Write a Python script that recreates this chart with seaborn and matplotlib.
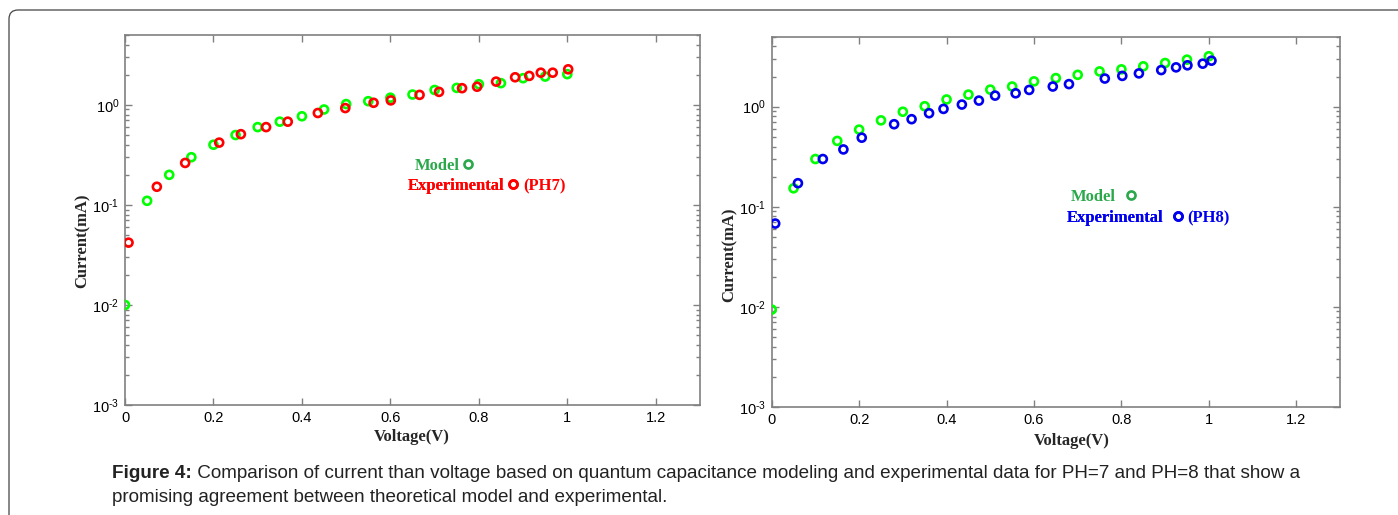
import matplotlib
matplotlib.use("Agg")
import matplotlib.pyplot as plt
import matplotlib.lines as mlines
from matplotlib.patches import FancyBboxPatch
from matplotlib.ticker import LogLocator, FixedLocator, NullFormatter
import seaborn as sns

# ---- data ----
model7_v = [0.0, 0.05, 0.10, 0.15, 0.20, 0.25, 0.30, 0.35, 0.40, 0.45, 0.50,
            0.55, 0.60, 0.65, 0.70, 0.75, 0.80, 0.85, 0.90, 0.95, 1.00]
model7_i = [0.010, 0.11, 0.20, 0.30, 0.40, 0.50, 0.60, 0.68, 0.77, 0.90, 1.02,
            1.09, 1.18, 1.27, 1.41, 1.48, 1.61, 1.65, 1.85, 1.92, 2.03]
exp7_v = [0.008, 0.072, 0.136, 0.213, 0.262, 0.319, 0.368, 0.436, 0.498, 0.562, 0.601,
          0.666, 0.710, 0.762, 0.796, 0.839, 0.882, 0.914, 0.940, 0.967, 1.002]
exp7_i = [0.042, 0.152, 0.263, 0.42, 0.51, 0.60, 0.68, 0.83, 0.93, 1.05, 1.11,
          1.26, 1.35, 1.47, 1.52, 1.71, 1.89, 1.95, 2.10, 2.10, 2.27]

model8_v = [0.0, 0.05, 0.10, 0.15, 0.20, 0.25, 0.30, 0.35, 0.40, 0.45, 0.50,
            0.55, 0.60, 0.65, 0.70, 0.75, 0.80, 0.85, 0.90, 0.95, 1.00]
model8_i = [0.0094, 0.153, 0.30, 0.455, 0.59, 0.73, 0.89, 1.01, 1.18, 1.32, 1.48,
            1.59, 1.79, 1.93, 2.08, 2.25, 2.36, 2.53, 2.73, 2.95, 3.19]
exp8_v = [0.008, 0.060, 0.117, 0.164, 0.206, 0.280, 0.320, 0.360, 0.393, 0.435, 0.474,
          0.511, 0.558, 0.589, 0.643, 0.680, 0.762, 0.802, 0.840, 0.891, 0.925,
          0.951, 0.986, 1.006]
exp8_i = [0.068, 0.172, 0.30, 0.374, 0.49, 0.668, 0.75, 0.86, 0.95, 1.05, 1.15,
          1.29, 1.36, 1.47, 1.59, 1.68, 1.91, 2.03, 2.15, 2.32, 2.47,
          2.59, 2.69, 2.88]

x_ticks = [0, 0.2, 0.4, 0.6, 0.8, 1.0, 1.2]
x_labels = ["0", "0.2", "0.4", "0.6", "0.8", "1", "1.2"]
y_ticks = [1e-3, 1e-2, 1e-1, 1e0]
y_labels = [r"$\mathregular{10^{\text{-}3}}$", r"$\mathregular{10^{\text{-}2}}$",
            r"$\mathregular{10^{\text{-}1}}$", r"$\mathregular{10^{0}}$"]

caption_bold = "Figure 4:"
caption_1 = " Comparison of current than voltage based on quantum capacitance modeling and experimental data for PH=7 and PH=8 that show a"
caption_2 = "promising agreement between theoretical model and experimental."

sns.set_theme(style="ticks")
plt.rcParams["font.family"] = ["Liberation Sans", "DejaVu Sans"]
plt.rcParams["mathtext.fontset"] = "custom"
plt.rcParams["mathtext.rm"] = "Liberation Sans"

LIME = "#00ff00"
LEG_GREEN = "#2aa84a"
RED = "#ff0000"
BLUE = "#0000ee"
SPINE = "#808080"
serif_bold = {"family": "Liberation Serif", "weight": "bold", "size": 12}

W, H = 1398, 515
fig = plt.figure(figsize=(W / 100, H / 100), dpi=100)

# rounded border around the figure
fig.patches.append(FancyBboxPatch((9, -60), 1460, H - 10 + 60,
                                  boxstyle="round,pad=0,rounding_size=9",
                                  transform=None, fill=False, ec="#444444", lw=0.9))

ax1 = fig.add_axes([125 / W, 1 - 405 / H, 575 / W, 370 / H])
ax2 = fig.add_axes([771.7 / W, 1 - 407 / H, 568.3 / W, 370.3 / H])


def draw_panel(ax, mv, mi, ev, ei, ecol):
    sns.scatterplot(x=mv, y=mi, ax=ax, marker="o", s=33, facecolor="none",
                    edgecolor=LIME, linewidth=1.9, zorder=3)
    sns.scatterplot(x=ev, y=ei, ax=ax, marker="o", s=33, facecolor="none",
                    edgecolor=ecol, linewidth=1.9, zorder=4)
    ax.set_yscale("log")
    ax.set_xlim(0, 1.3)
    ax.set_ylim(1e-3, 5)
    ax.xaxis.set_major_locator(FixedLocator(x_ticks))
    ax.set_xticklabels(x_labels)
    ax.yaxis.set_major_locator(FixedLocator(y_ticks))
    ax.set_yticklabels(y_labels)
    ax.yaxis.set_minor_locator(LogLocator(base=10, subs=range(2, 10)))
    ax.yaxis.set_minor_formatter(NullFormatter())
    ax.tick_params(which="both", direction="in", top=True, right=True,
                   color=SPINE, labelsize=10.5, labelcolor="black", width=1.0)
    ax.tick_params(which="major", length=5, pad=4)
    ax.tick_params(which="minor", length=3)
    ax.tick_params(axis="x", which="minor", top=False, bottom=False)
    for sp in ax.spines.values():
        sp.set_color(SPINE)
        sp.set_linewidth(1.2)
    ax.set_xlabel("Voltage(V)", fontdict=serif_bold)
    ax.set_ylabel("Current(mA)", fontdict=serif_bold)


draw_panel(ax1, model7_v, model7_i, exp7_v, exp7_i, RED)
draw_panel(ax2, model8_v, model8_i, exp8_v, exp8_i, BLUE)
ax1.xaxis.set_label_coords(0.499, -0.065)
ax1.yaxis.set_label_coords(-0.060, 0.443)
ax2.xaxis.set_label_coords(0.528, -0.070)
ax2.yaxis.set_label_coords(-0.060, 0.41)


def add_key(ax, label, col, x, y, pad):
    h = mlines.Line2D([], [], linestyle="none", marker="o", markersize=5.8,
                      markerfacecolor="none", markeredgecolor=col, markeredgewidth=1.9)
    leg = ax.legend([h], [label], loc="center right", bbox_to_anchor=(x, y),
                    bbox_transform=ax.transAxes, frameon=False, markerfirst=False,
                    handlelength=0.6, handletextpad=pad, borderpad=0, borderaxespad=0,
                    prop=serif_bold, labelcolor=col)
    ax.add_artist(leg)


add_key(ax1, "Model", LEG_GREEN, 0.605, 0.646, 0.2)
add_key(ax1, "Experimental", RED, 0.683, 0.592, 0.2)
ax1.text(0.692, 0.592, "(PH7)", transform=ax1.transAxes, ha="left", va="center",
         color=RED, fontdict=serif_bold)

add_key(ax2, "Model", LEG_GREEN, 0.641, 0.567, 0.6)
add_key(ax2, "Experimental", BLUE, 0.724, 0.510, 0.6)
ax2.text(0.731, 0.510, "(PH8)", transform=ax2.transAxes, ha="left", va="center",
         color=BLUE, fontdict=serif_bold)

# caption
t = fig.text(112 / W, 1 - 474 / H, caption_bold, ha="left", va="center",
             fontsize=13.6, fontweight="bold", color="#222222")
fig.canvas.draw()
bb = t.get_window_extent(fig.canvas.get_renderer())
fig.text(bb.x1 / W, 1 - 474 / H, caption_1, ha="left", va="center",
         fontsize=13.6, color="#222222")
fig.text(112 / W, 1 - 498 / H, caption_2, ha="left", va="center",
         fontsize=13.6, color="#222222")

fig.savefig("out.png", dpi=100)
